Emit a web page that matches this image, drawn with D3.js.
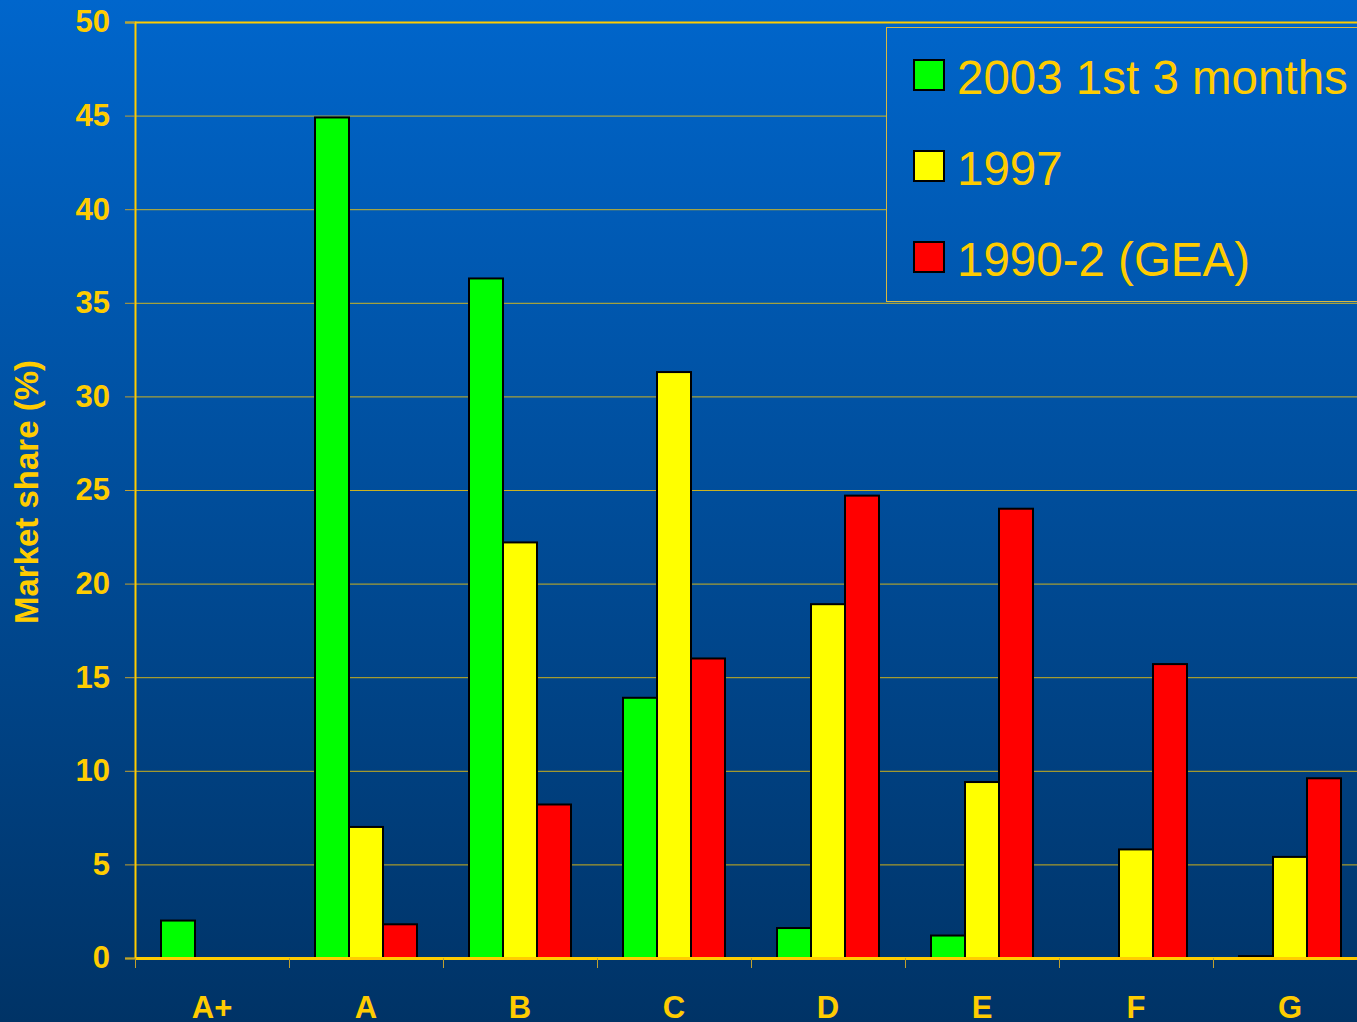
<!DOCTYPE html>
<html>
<head>
<meta charset="utf-8">
<script src="https://cdn.jsdelivr.net/npm/d3@7"></script>
<style>
  html, body { margin: 0; padding: 0; overflow: hidden; }
  svg { display: block; }
</style>
</head>
<body>
<script>
// window size
var wW = 1357;
var wH = 1022;

// chart data
var categories = ['A+', 'A', 'B', 'C', 'D', 'E', 'F', 'G'];
var seriesNames = ['2003 1st 3 months', '1997', '1990-2 (GEA)'];
var seriesColors = ['#00ff00', '#ffff00', '#ff0000'];
var values2003 = [2.0, 44.9, 36.3, 13.9, 1.6, 1.2, 0, 0.1];
var values1997 = [0, 7.0, 22.2, 31.3, 18.9, 9.4, 5.8, 5.4];
var values1990 = [0, 1.8, 8.2, 16.0, 24.7, 24.0, 15.7, 9.6];
var yTicks = [0, 5, 10, 15, 20, 25, 30, 35, 40, 45, 50];

var series = [values2003, values1997, values1990];
var gold = '#ffcc00';
var font = 'Liberation Sans, Arial, sans-serif';

var svg = d3.select('body').append('svg')
  .attr('width', wW)
  .attr('height', wH);

// background gradient, shared by the page and the legend box
var grad = svg.append('defs').append('linearGradient')
  .attr('id', 'bg')
  .attr('gradientUnits', 'userSpaceOnUse')
  .attr('x1', 0).attr('y1', 0)
  .attr('x2', 0).attr('y2', wH);
grad.append('stop').attr('offset', '0%').attr('stop-color', '#0066cc');
grad.append('stop').attr('offset', '100%').attr('stop-color', '#003366');

svg.append('rect')
  .attr('width', wW)
  .attr('height', wH)
  .attr('fill', 'url(#bg)');

// scales
var plotLeft = 135, plotTop = 22, plotBottom = 958;
var x = d3.scaleBand()
  .domain(categories)
  .range([plotLeft, plotLeft + 154 * categories.length]);
var xs = d3.scaleBand()
  .domain(d3.range(series.length))
  .range([26, 128]);
var y = d3.scaleLinear()
  .domain([0, 50])
  .range([plotBottom, plotTop]);

// grid lines
svg.append('g')
  .selectAll('line')
  .data(yTicks.filter(t => t > 0))
  .enter().append('line')
  .attr('x1', plotLeft)
  .attr('x2', wW)
  .attr('y1', d => y(d) + 0.5)
  .attr('y2', d => y(d) + 0.5)
  .attr('stroke', gold)
  .attr('stroke-width', d => d == 50 ? 2 : 1)
  .attr('stroke-opacity', d => d == 50 ? 1 : 0.8);

// legend box (opaque, hides the grid lines behind it)
var legend = svg.append('g');
legend.append('rect')
  .attr('x', 886.5)
  .attr('y', 27.5)
  .attr('width', 500)
  .attr('height', 274)
  .attr('fill', 'url(#bg)')
  .attr('stroke', '#d8b840')
  .attr('stroke-width', 1);

seriesNames.forEach((name, i) => {
  var ly = 60 + i * 91;
  legend.append('rect')
    .attr('x', 914)
    .attr('y', ly)
    .attr('width', 30)
    .attr('height', 30)
    .attr('fill', seriesColors[i])
    .attr('stroke', '#000')
    .attr('stroke-width', 2);
  legend.append('text')
    .attr('x', 957)
    .attr('y', ly + 34)
    .attr('font-family', font)
    .attr('font-size', 47.5)
    .attr('fill', gold)
    .text(name);
});

// bars
series.forEach((vals, si) => {
  var rows = vals.map((v, i) => ({ cat: categories[i], v: v })).filter(r => r.v > 0);
  svg.append('g')
    .selectAll('rect')
    .data(rows)
    .enter().append('rect')
    .attr('x', d => x(d.cat) + xs(si))
    .attr('y', d => y(d.v))
    .attr('width', xs.bandwidth())
    .attr('height', d => plotBottom - y(d.v))
    .attr('fill', seriesColors[si])
    .attr('stroke', '#000')
    .attr('stroke-width', 2);
});

// y axis
var yAxis = svg.append('g')
  .attr('transform', 'translate(' + plotLeft + ',0)')
  .call(d3.axisLeft(y).tickValues(yTicks).tickSize(10).tickPadding(15));
yAxis.select('.domain').attr('stroke', gold).attr('stroke-width', 2);
yAxis.selectAll('.tick line').attr('stroke', '#c0a030');
yAxis.selectAll('.tick text')
  .attr('fill', gold)
  .attr('font-family', font)
  .attr('font-weight', 'bold')
  .attr('font-size', 31);

// x axis
var xAxis = svg.append('g')
  .attr('transform', 'translate(0,' + plotBottom + ')')
  .call(d3.axisBottom(x).tickSize(0).tickPadding(38));
xAxis.select('.domain').attr('stroke', gold).attr('stroke-width', 3);
xAxis.selectAll('.tick text')
  .attr('fill', gold)
  .attr('font-family', font)
  .attr('font-weight', 'bold')
  .attr('font-size', 31);

// x tick marks at the band boundaries
svg.append('g')
  .selectAll('line')
  .data(categories)
  .enter().append('line')
  .attr('x1', d => x(d) + 0.5)
  .attr('x2', d => x(d) + 0.5)
  .attr('y1', plotBottom)
  .attr('y2', plotBottom + 10)
  .attr('stroke', '#c0a030');

// y axis title
svg.append('text')
  .attr('transform', 'translate(38,' + 492 + ') rotate(-90)')
  .attr('text-anchor', 'middle')
  .attr('font-family', font)
  .attr('font-weight', 'bold')
  .attr('font-size', 33)
  .attr('fill', gold)
  .text('Market share (%)');
</script>
</body>
</html>
